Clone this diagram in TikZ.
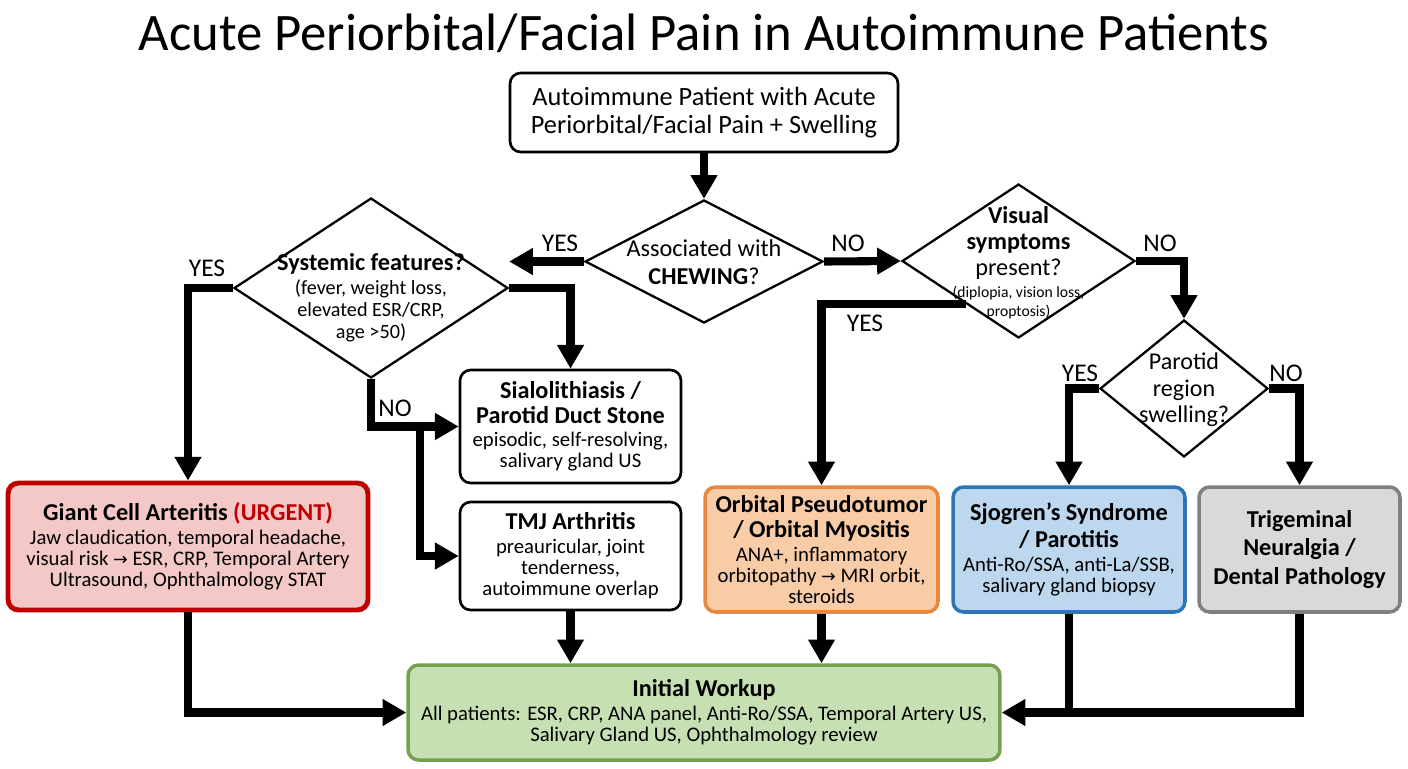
\documentclass[tikz,border=0pt]{standalone}
\usepackage{fontspec}
\setmainfont{Carlito}
\newfontfamily\djv{DejaVu Sans}
\usetikzlibrary{arrows.meta,shapes.geometric,calc}
\definecolor{urg}{HTML}{C00000}
\definecolor{gcafill}{HTML}{F5C8C8}
\definecolor{orbdraw}{HTML}{E8873E}
\definecolor{orbfill}{HTML}{F9CCA8}
\definecolor{sjodraw}{HTML}{2E75B6}
\definecolor{sjofill}{HTML}{BDD7EE}
\definecolor{trigdraw}{HTML}{7F7F7F}
\definecolor{trigfill}{HTML}{D9D9D9}
\definecolor{wkdraw}{HTML}{75A050}
\definecolor{wkfill}{HTML}{C6E0B4}
\newcommand\hd[1]{{\fontsize{13.8}{15}\selectfont\bfseries #1}}
\newcommand\rarr{{\djv\fontsize{10}{12}\selectfont →}}
\begin{document}
\begin{tikzpicture}[x=0.02cm,y=-0.02cm,
  box/.style={draw, line width=1.5pt, rounded corners=6pt, fill=white, align=center, inner sep=2pt, font=\fontsize{11.8}{12}\selectfont},
  dia/.style={draw, diamond, line width=1.3pt, inner sep=0pt, fill=white},
  dtext/.style={align=center, inner sep=0pt},
  conn/.style={line width=4.6pt, -{Triangle[length=13.5pt,width=14.5pt]}},
  plainln/.style={line width=4.6pt},
  lbl/.style={font=\fontsize{14.5}{16}\selectfont, inner sep=0pt}]
\useasboundingbox (0,0) rectangle (1408,768);

\node (title) at (704,33) {\fontsize{30}{36}\selectfont Acute Periorbital/Facial Pain in Autoimmune Patients};

\node[box, minimum width=7.76cm, minimum height=1.58cm, font=\fontsize{15}{16}\selectfont] (top) at (704,112.5)
  {Autoimmune Patient with Acute\\Periorbital/Facial Pain + Swelling};

\node[dia, minimum width=4.76cm, minimum height=2.46cm] (chew) at (704,261.5) {};
\node[dtext, font=\fontsize{13.8}{16}\selectfont] (chewt) at (704,262) {Associated with\\\textbf{CHEWING}?};

\node[dia, minimum width=5.48cm, minimum height=3.6cm] (sys) at (371,288) {};
\node[dtext, font=\fontsize{11.5}{12.6}\selectfont] (syst) at (371,298)
  {\hd{Systemic features?}\\[1pt](fever, weight loss,\\elevated ESR/CRP,\\age >50)};

\node[dia, minimum width=4.66cm, minimum height=3.08cm] (vis) at (1018.5,261) {};
\node[dtext, font=\fontsize{13.8}{14.6}\selectfont] (vist) at (1018.5,263)
  {\textbf{Visual}\\\textbf{symptoms}\\present?\\[-2pt]{\fontsize{8.9}{9.5}\selectfont (diplopia, vision loss,}\\[-3.5pt]{\fontsize{8.9}{9.5}\selectfont proptosis)}};

\node[dia, minimum width=3.36cm, minimum height=2.74cm] (par) at (1184,388.5) {};
\node[dtext, font=\fontsize{13.7}{15}\selectfont] (part) at (1184,390) {Parotid\\region\\swelling?};

\node[box, draw=urg, fill=gcafill, line width=2.8pt, minimum width=7.2cm, minimum height=2.54cm] (gca) at (188,546.5)
  {\hd{Giant Cell Arteritis \textcolor{urg}{(URGENT)}}\\[1.5pt]Jaw claudication, temporal headache,\\visual risk \rarr{} ESR, CRP, Temporal Artery\\Ultrasound, Ophthalmology STAT};

\node[box, minimum width=4.42cm, minimum height=2.26cm] (sialo) at (570.5,426.5)
  {\hd{Sialolithiasis /}\\[2pt]\hd{Parotid Duct Stone}\\[1.5pt]episodic, self-resolving,\\salivary gland US};

\node[box, minimum width=4.42cm, minimum height=2.16cm] (tmj) at (570.5,556)
  {\hd{TMJ Arthritis}\\[1.5pt]preauricular, joint\\tenderness,\\autoimmune overlap};

\node[box, draw=orbdraw, fill=orbfill, line width=2pt, minimum width=4.66cm, minimum height=2.5cm] (orb) at (821.5,549.5)
  {\hd{Orbital Pseudotumor}\\[2pt]\hd{/ Orbital Myositis}\\[1.5pt]ANA+, inflammatory\\orbitopathy \rarr{} MRI orbit,\\steroids};

\node[box, draw=sjodraw, fill=sjofill, line width=2pt, minimum width=4.64cm, minimum height=2.5cm] (sjo) at (1069,549.5)
  {\hd{Sjogren’s Syndrome}\\[2pt]\hd{/ Parotitis}\\[1.5pt]Anti-Ro/SSA, anti-La/SSB,\\salivary gland biopsy};

\node[box, draw=trigdraw, fill=trigfill, line width=2pt, minimum width=4.02cm, minimum height=2.5cm] (trig) at (1299.5,549.5)
  {\hd{Trigeminal}\\[3pt]\hd{Neuralgia /}\\[3pt]\hd{Dental Pathology}};

\node[box, draw=wkdraw, fill=wkfill, line width=2pt, minimum width=11.84cm, minimum height=1.9cm] (wk) at (704,712.5)
  {\hd{Initial Workup}\\[1.5pt]All patients: ESR, CRP, ANA panel, Anti-Ro/SSA, Temporal Artery US,\\Salivary Gland US, Ophthalmology review};

% connectors
\draw[conn] (top.south) -- (chew.north);
\draw[conn] (chew.west) -- (chew.west -| sys.east);
\draw[conn] (sys.west) -| (gca.north);
\draw[conn] (sys.east) -| (sialo.north);
\draw[conn] (sys.south) |- (sialo.west);
\coordinate (j) at ($(sys.south |- sialo.west)+(49,0)$);
\draw[conn] (j) |- (tmj.west);
\draw[conn] (tmj.south) -- (tmj.south |- wk.north);
\draw[conn] (gca.south) |- (wk.west);
\draw[conn] (chew.east) -- (vis.west);
\coordinate (vy) at ($(vis.west)!0.55!(vis.south)$);
\draw[conn] (vy) -| (orb.north);
\draw[conn] (vis.east) -| (par.north);
\draw[conn] (par.west) -| (sjo.north);
\draw[conn] (par.east) -| (trig.north);
\draw[conn] (orb.south) -- (orb.south |- wk.north);
\draw[plainln] (sjo.south) -- (sjo.south |- wk.east);
\draw[conn] (trig.south) |- (wk.east);

% labels
\node[lbl] (l1) at (560,243) {YES};
\node[lbl] (l2) at (848,243) {NO};
\node[lbl] (l3) at (207,268) {YES};
\node[lbl] (l4) at (395,408) {NO};
\node[lbl] (l5) at (865,323) {YES};
\node[lbl] (l6) at (1160,243) {NO};
\node[lbl] (l7) at (1080,373) {YES};
\node[lbl] (l8) at (1286,373) {NO};
\end{tikzpicture}
\end{document}
